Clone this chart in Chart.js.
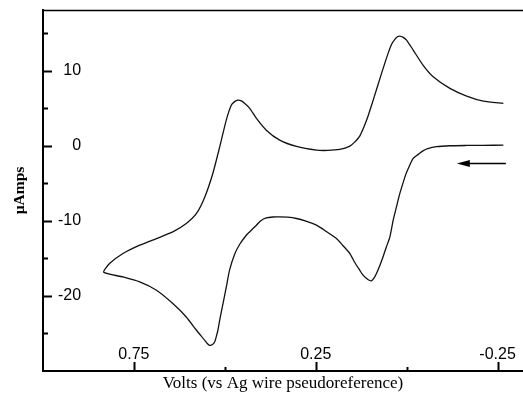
<!DOCTYPE html>
<html>
<head>
<meta charset="utf-8">
<script src="https://cdn.jsdelivr.net/npm/chart.js@4/dist/chart.umd.min.js"></script>
<style>
  html, body { margin: 0; padding: 0; background: #fff; }
  #wrap { width: 523px; height: 402px; position: relative; }
</style>
</head>
<body>
<div id="wrap"><canvas id="c" width="523" height="402"></canvas></div>
<script>
// Cyclic voltammogram: potential (V vs Ag wire) and current (µA), in scan order
const volts = [
  -0.266, -0.210, -0.165, -0.119, -0.082, -0.058, -0.045, -0.031, -0.018, -0.006,
  0.002, 0.0105, 0.020, 0.028, 0.037, 0.046, 0.056, 0.065, 0.074, 0.083,
  0.090, 0.097, 0.103, 0.110, 0.121, 0.129, 0.143, 0.156, 0.176, 0.193,
  0.222, 0.248, 0.277, 0.303, 0.327, 0.349, 0.368, 0.386, 0.401, 0.413,
  0.432, 0.441, 0.459, 0.473, 0.487, 0.496, 0.505, 0.513, 0.519, 0.524,
  0.528, 0.535, 0.542, 0.549, 0.555, 0.578, 0.606, 0.643, 0.688, 0.734,
  0.780, 0.833,
  0.817, 0.780, 0.734, 0.688, 0.643, 0.606, 0.578, 0.555, 0.533, 0.514,
  0.496, 0.482, 0.473, 0.464, 0.456, 0.445, 0.432, 0.413, 0.386, 0.349,
  0.303, 0.248, 0.217, 0.184, 0.156, 0.143, 0.129, 0.110, 0.092, 0.069,
  0.051, 0.041, 0.0325, 0.024, 0.019, 0.0105, 0.0003, -0.018, -0.045, -0.073,
  -0.119, -0.165, -0.211, -0.266
];
const microAmps = [
  0.09, 0.07, 0.05, 0.01, -0.11, -0.37, -0.67, -1.17, -1.68, -2.84,
  -3.77, -5.04, -6.57, -8.13, -9.91, -12.13, -13.51, -14.8, -15.97, -17.01,
  -17.64, -18.0, -17.91, -17.68, -17.17, -16.57, -15.51, -14.35, -13.24, -12.35,
  -11.37, -10.57, -10.04, -9.68, -9.51, -9.47, -9.48, -9.6, -9.97, -10.57,
  -11.47, -11.91, -13.11, -14.44, -16.57, -18.84, -21.01, -22.97, -24.57, -25.51,
  -26.13, -26.51, -26.57, -26.31, -25.91, -24.57, -22.8, -21.01, -19.24, -18.13,
  -17.47, -16.84,
  -15.68, -14.35, -13.24, -12.35, -11.47, -10.35, -9.01, -6.8, -3.68, -0.13,
  3.43, 5.43, 5.89, 6.09, 6.03, 5.65, 5.03, 3.65, 2.09, 0.76,
  -0.08, -0.57, -0.61, -0.48, -0.04, 0.49, 1.29, 3.43, 6.09, 9.65,
  12.32, 13.56, 14.19, 14.56, 14.63, 14.49, 14.09, 12.76, 10.76, 9.2,
  7.65, 6.63, 5.96, 5.65
];
const xLabeled = [0.75, 0.25, -0.25];   // labelled potential ticks
const xTickValues = [0.75, 0.5, 0.25, 0, -0.25];
const yLabeled = [-20, -10, 0, 10];
const yTickValues = [-25, -20, -15, -10, -5, 0, 5, 10, 15];
const scanArrow = { fromV: -0.273, toV: -0.138, atI: -2.35 };
const xTitle = 'Volts (vs Ag wire pseudoreference)';
const yTitle = 'µAmps';

const points = volts.map((v, i) => ({ x: v, y: microAmps[i] }));

const frame = {
  id: 'frame',
  afterDraw(chart) {
    const { ctx, chartArea: a, scales: { x, y } } = chart;
    ctx.save();
    ctx.strokeStyle = '#000';
    // top border
    ctx.lineWidth = 1.5;
    ctx.beginPath();
    ctx.moveTo(a.left, a.top + 0.5);
    ctx.lineTo(a.right, a.top + 0.5);
    ctx.stroke();
    // inward tick marks
    ctx.lineWidth = 2;
    xTickValues.forEach(v => {
      const px = Math.round(x.getPixelForValue(v)) + 0.5;
      const len = xLabeled.includes(v) ? 9 : 4;
      ctx.beginPath();
      ctx.moveTo(px, a.bottom);
      ctx.lineTo(px, a.bottom - len);
      ctx.stroke();
    });
    yTickValues.forEach(v => {
      const py = Math.round(y.getPixelForValue(v)) + 0.5;
      const len = yLabeled.includes(v) ? 9 : 5;
      ctx.beginPath();
      ctx.moveTo(a.left, py);
      ctx.lineTo(a.left + len, py);
      ctx.stroke();
    });
    // scan direction arrow
    const x1 = x.getPixelForValue(scanArrow.fromV);
    const x2 = x.getPixelForValue(scanArrow.toV);
    const py = y.getPixelForValue(scanArrow.atI);
    ctx.lineWidth = 1.5;
    ctx.beginPath();
    ctx.moveTo(x1, py);
    ctx.lineTo(x2 + 10, py);
    ctx.stroke();
    ctx.fillStyle = '#000';
    ctx.beginPath();
    ctx.moveTo(x2, py);
    ctx.lineTo(x2 + 13, py - 3.5);
    ctx.lineTo(x2 + 13, py + 3.5);
    ctx.closePath();
    ctx.fill();
    ctx.restore();
  }
};

Chart.defaults.color = '#000';

new Chart(document.getElementById('c'), {
  type: 'scatter',
  data: {
    datasets: [{
      data: points,
      showLine: true,
      borderColor: '#111',
      borderWidth: 1.3,
      pointRadius: 0,
      tension: 0.2,
      fill: false
    }]
  },
  options: {
    responsive: false,
    devicePixelRatio: 1,
    animation: false,
    layout: { padding: { top: 10, right: 0, left: 0, bottom: 0 } },
    plugins: { legend: { display: false }, tooltip: { enabled: false } },
    scales: {
      x: {
        type: 'linear',
        reverse: true,
        min: -0.32,
        max: 1.0,
        grid: { display: false, drawTicks: false },
        border: { display: true, color: '#000', width: 2 },
        ticks: {
          stepSize: 0.25,
          includeBounds: false,
          mirror: true,
          padding: 7,
          maxRotation: 0,
          autoSkip: false,
          font: { family: 'Liberation Sans', size: 16 },
          callback: v => xLabeled.some(t => Math.abs(t - v) < 1e-6) ? v.toFixed(2) : ''
        },
        title: {
          display: true,
          text: xTitle,
          font: { family: 'Liberation Serif', size: 17 },
          padding: { top: 0, bottom: 8 }
        },
        afterFit: s => { s.height = 31; s.paddingLeft = 0; s.paddingRight = 0; }
      },
      y: {
        type: 'linear',
        min: -30,
        max: 18.1,
        grid: { display: false, drawTicks: false },
        border: { display: true, color: '#000', width: 2 },
        ticks: {
          stepSize: 10,
          includeBounds: false,
          mirror: true,
          crossAlign: 'far',
          padding: 15,
          font: { family: 'Liberation Sans', size: 16 },
          callback: v => yLabeled.includes(v) ? String(v) : ''
        },
        title: {
          display: true,
          text: yTitle,
          font: { family: 'Liberation Serif', size: 15.5, weight: 'bold' },
          padding: { top: 11, bottom: 0 }
        },
        afterFit: s => { s.width = 43; s.paddingTop = 0; s.paddingBottom = 0; }
      }
    }
  },
  plugins: [frame]
});
</script>
</body>
</html>
